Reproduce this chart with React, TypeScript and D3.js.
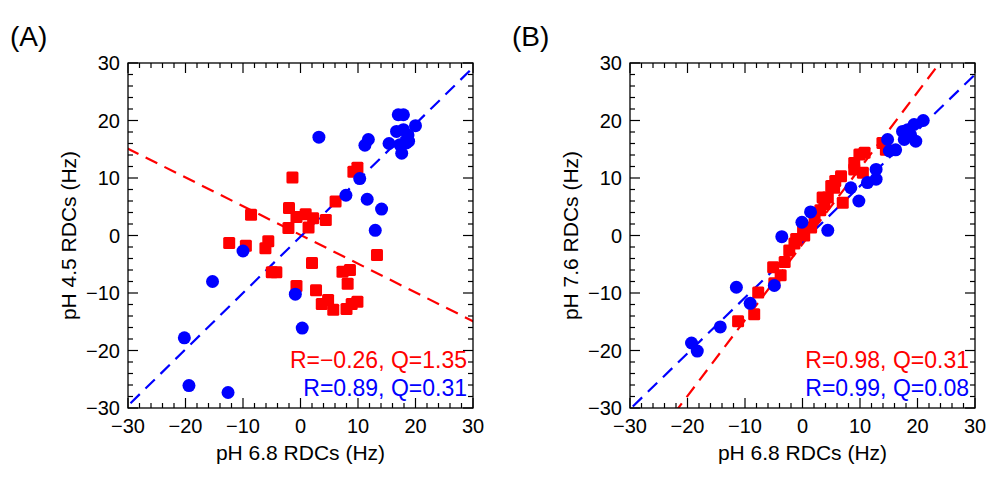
import React, { useEffect, useRef } from "react";
import * as d3 from "d3";

type P = [number, number];

const blueA: P[] = [
  [3.2, 17.1], [17.0, 21], [17.9, 21], [20, 19.1], [16.7, 18.1], [17.9, 18.4], [18.7, 17.5],
  [18.4, 16.1], [17.3, 15.8], [17.6, 14.3], [15.4, 16], [18.8, 16.4], [11.2, 15.7], [11.8, 16.7],
  [10.3, 9.9], [7.9, 7.0], [11.6, 6.3], [14.1, 4.6], [13.0, 0.9], [-10, -2.7], [-15.3, -8],
  [-0.9, -10.2], [0.3, -16.1], [-20.2, -17.8], [-19.4, -26.1], [-12.6, -27.3],
];
const redA: P[] = [
  [-1.4, 10.1], [9.9, 11.8], [9.2, 11.1], [6.1, 5.9], [-8.6, 3.6], [-2, 4.8], [-0.7, 3.2],
  [0.9, 3.7], [2.2, 3.0], [1.4, 1.4], [-2.1, 1.3], [4.4, 2.7], [-12.4, -1.3], [-9.5, -1.8],
  [-5.6, -1.0], [-6.1, -2.2], [-5, -6.4], [-4.2, -6.4], [2, -4.8], [13.3, -3.4], [-0.7, -8.8],
  [2.7, -9.5], [7.3, -6.3], [8.6, -6], [8.2, -8.4], [3.7, -11.9], [4.8, -11.2], [5.7, -12.9],
  [8, -12.8], [8.9, -11.9], [9.9, -11.5],
];
const blueB: P[] = [
  [21, 20], [19.4, 19.3], [18.3, 18.4], [18.8, 17.5], [19.7, 16.4], [17.7, 16.7], [16.2, 14.9],
  [14.8, 16.7], [15.1, 14.7], [17.4, 18.1], [12.8, 11.5], [12.8, 9.8], [11.3, 9.2], [8.4, 8.3],
  [9.8, 6.0], [4.4, 0.9], [1.4, 4.1], [-0.1, 2.3], [-3.6, -0.2], [-4.9, -8.7], [-11.5, -9],
  [-9.1, -11.8], [-14.3, -15.9], [-19.3, -18.7], [-18.3, -20.1],
];
const redB: P[] = [
  [13.9, 16.1], [14.5, 14.9], [10.8, 14.4], [9.9, 14.1], [9.0, 12.6], [9.0, 11.5], [10.5, 10.9],
  [6.7, 10.3], [5.7, 9.5], [5.0, 8.6], [4.4, 6.6], [3.5, 6.6], [7, 5.7], [3.1, 4.4], [2.1, 3.2],
  [1.5, 1.4], [0.1, 1.1], [0.3, 0], [-1.1, -0.6], [-2.3, -2.6], [-3.1, -4.6], [-3.8, -6.9],
  [-4.9, -8.3], [-5.1, -5.5], [-7.7, -9.9], [-8.4, -13.7], [-11.2, -14.9], [5.5, 8.3],
  [3.8, 5.5], [-1.4, -1.4],
];

// fit lines as [slope, intercept]
const fitA = { red: [-0.5, 0.1], blue: [0.98, -0.2] };
const fitB = { red: [1.32, -1.5], blue: [0.97, -1.1] };

const panels = [
  { tag: "(A)", left: 128, ylabel: "pH 4.5 RDCs (Hz)", red: redA, blue: blueA, fit: fitA,
    redText: "R=\u22120.26, Q=1.35", blueText: "R=0.89, Q=0.31" },
  { tag: "(B)", left: 630, ylabel: "pH 7.6 RDCs (Hz)", red: redB, blue: blueB, fit: fitB,
    redText: "R=0.98, Q=0.31", blueText: "R=0.99, Q=0.08" },
];

const TOP = 63;
const SIZE = 345;
const RED = "#ff0000";
const BLUE = "#0000ff";

export default function App() {
  const ref = useRef<SVGSVGElement | null>(null);

  useEffect(() => {
    const svg = d3.select(ref.current);
    svg.selectAll("*").remove();
    svg.append("rect").attr("width", 1001).attr("height", 479).attr("fill", "white");

    panels.forEach((p, pi) => {
      const x = d3.scaleLinear().domain([-30, 30]).range([p.left, p.left + SIZE]);
      const y = d3.scaleLinear().domain([-30, 30]).range([TOP + SIZE, TOP]);
      const g = svg.append("g").style("font-family", "Liberation Sans, Arial, sans-serif");

      svg.append("clipPath").attr("id", "clip" + pi)
        .append("rect").attr("x", p.left).attr("y", TOP).attr("width", SIZE).attr("height", SIZE);
      const plot = g.append("g").attr("clip-path", `url(#clip${pi})`);

      ([["red", RED], ["blue", BLUE]] as const).forEach(([k, c]) => {
        const [m, b] = (p.fit as any)[k];
        plot.append("line")
          .attr("x1", x(-40)).attr("y1", y(m * -40 + b))
          .attr("x2", x(40)).attr("y2", y(m * 40 + b))
          .attr("stroke", c).attr("stroke-width", 2.2).attr("stroke-dasharray", "13 8");
      });

      plot.selectAll(".sq").data(p.red).enter().append("rect")
        .attr("x", (d) => x(d[0]) - 6).attr("y", (d) => y(d[1]) - 6)
        .attr("width", 12).attr("height", 12).attr("rx", 1.5).attr("fill", RED);
      plot.selectAll(".ci").data(p.blue).enter().append("circle")
        .attr("cx", (d) => x(d[0])).attr("cy", (d) => y(d[1])).attr("r", 6.5).attr("fill", BLUE);

      g.append("rect").attr("x", p.left).attr("y", TOP).attr("width", SIZE).attr("height", SIZE)
        .attr("fill", "none").attr("stroke", "#000").attr("stroke-width", 1.3);
      d3.range(-30, 31, 2).forEach((v) => {
        const len = v % 10 === 0 ? 10 : 5;
        const xv = x(v), yv = y(v);
        [[xv, TOP + SIZE, xv, TOP + SIZE - len], [xv, TOP, xv, TOP + len],
         [p.left, yv, p.left + len, yv], [p.left + SIZE, yv, p.left + SIZE - len, yv]]
          .forEach(([a, b, c, d]) => g.append("line").attr("x1", a).attr("y1", b)
            .attr("x2", c).attr("y2", d).attr("stroke", "#000").attr("stroke-width", 1.2));
      });
      x.ticks(6).forEach((v) => {
        const lbl = v < 0 ? "\u2212" + Math.abs(v) : String(v);
        g.append("text").attr("x", x(v)).attr("y", TOP + SIZE + 25)
          .attr("text-anchor", "middle").attr("font-size", 20).text(lbl);
        g.append("text").attr("x", p.left - 8).attr("y", y(v) + 7)
          .attr("text-anchor", "end").attr("font-size", 20).text(lbl);
      });
      g.append("text").attr("x", p.left + SIZE / 2).attr("y", TOP + SIZE + 52)
        .attr("text-anchor", "middle").attr("font-size", 21).text("pH 6.8 RDCs (Hz)");
      g.append("text").attr("transform", `translate(${p.left - 52},${TOP + SIZE / 2}) rotate(-90)`)
        .attr("text-anchor", "middle").attr("font-size", 21).text(p.ylabel);
      g.append("text").attr("x", p.left - 118).attr("y", 46).attr("font-size", 28).text(p.tag);

      g.append("text").attr("x", p.left + SIZE - 6).attr("y", TOP + SIZE - 40)
        .attr("text-anchor", "end").attr("font-size", 23).attr("fill", RED).text(p.redText);
      g.append("text").attr("x", p.left + SIZE - 6).attr("y", TOP + SIZE - 12)
        .attr("text-anchor", "end").attr("font-size", 23).attr("fill", BLUE).text(p.blueText);
    });
  }, []);

  return <svg ref={ref} width={1001} height={479} style={{ position: "absolute", left: 0, top: 0 }} />;
}
